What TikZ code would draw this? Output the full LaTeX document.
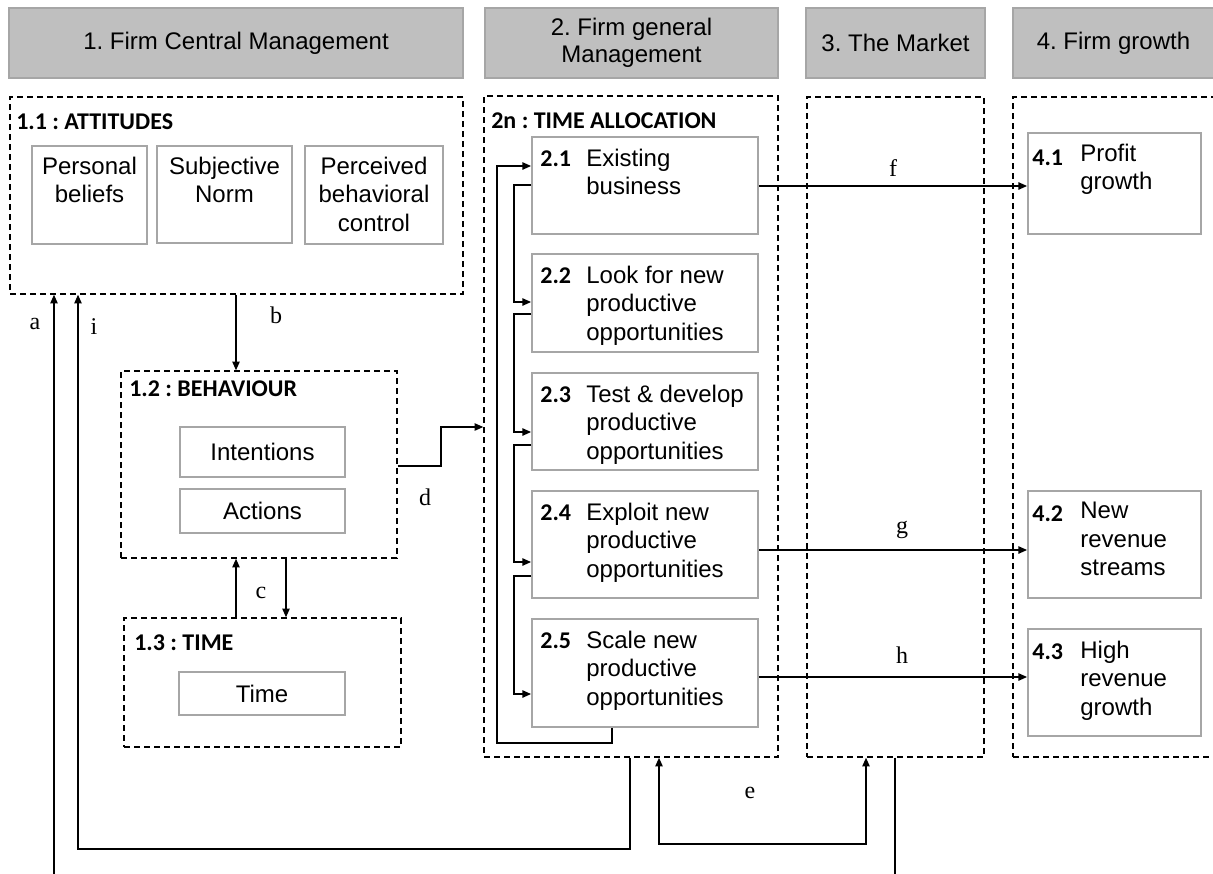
\documentclass[tikz,border=0pt]{standalone}
\usepackage{fontspec}
\setmainfont{Liberation Sans}
\newfontfamily\calfont{Carlito}
\newfontfamily\serfont{Liberation Serif}
\usetikzlibrary{arrows.meta}
\definecolor{hdrfill}{RGB}{191,191,191}
\definecolor{boxline}{RGB}{166,166,166}
\frenchspacing

\begin{document}
\begin{tikzpicture}[x=0.75pt, y=-0.75pt,
    wh/.style 2 args={minimum width=#1*0.75pt, minimum height=#2*0.75pt},
    header/.style={rectangle, fill=hdrfill, draw=boxline, line width=0.8pt,
      inner sep=0pt, align=center, font=\fontsize{18}{20.5}\selectfont},
    group/.style={rectangle, draw, line width=1.1pt, dash pattern=on 4.5pt off 3pt, inner sep=0pt},
    subbox/.style={rectangle, draw=boxline, line width=1.4pt, inner sep=0pt,
      font=\fontsize{18}{21.2}\selectfont},
    bodytxt/.style={inner sep=0pt, align=left, font=\fontsize{18}{21.2}\selectfont},
    numtxt/.style={inner sep=0pt, font=\calfont\bfseries\fontsize{18}{21.6}\selectfont},
    titletxt/.style={numtxt},
    lettertxt/.style={inner sep=0pt, font=\serfont\fontsize{18}{21}\selectfont},
    arr/.style={-{Triangle[length=6.5pt, width=5.5pt]}, line width=1.1pt},
    arrboth/.style={{Triangle[length=6.5pt, width=5.5pt]}-{Triangle[length=6.5pt, width=5.5pt]}, line width=1.1pt},
    plain/.style={line width=1.1pt}
  ]
  \useasboundingbox (0,0) rectangle (1213,874);

  % column headers
  \node[header, wh={454}{70}] (hCentral) at (236,43) {1. Firm Central Management};
  \node[header, wh={293}{70}] (hGeneral) at (631.5,43) {2. Firm general\\Management};
  \node[header, wh={179}{70}] (hMarket) at (895.5,43) {3. The Market};
  \node[header, wh={201}{70}] (hGrowth) at (1113.5,43) {4. Firm growth};

  % dashed groups
  \node[group, wh={453}{197}] (attitudes) at (236.5,195.5) {};
  \node[group, wh={294}{661}] (alloc) at (631,426.5) {};
  \node[group, wh={177}{660}] (market) at (895.5,427) {};
  \node[group, wh={227}{660}] (growth) at (1126.5,427) {};
  \node[group, wh={276}{187}] (behaviour) at (259,464.5) {};
  \node[group, wh={277}{129}] (timebox) at (262.5,682.5) {};

  \node[titletxt, anchor=west] (attTitle) at (16,122) {1.1 : ATTITUDES};
  \node[titletxt, anchor=west] (behTitle) at (129,389) {1.2 : BEHAVIOUR};
  \node[titletxt, anchor=west] (timeTitle) at (134,643) {1.3 : TIME};
  \node[titletxt, anchor=west] (allocTitle) at (491,121) {2n : TIME ALLOCATION};

  % 1.1 attitudes
  \node[subbox, wh={115}{98}] (beliefs) at (89.5,195) {};
  \node[subbox, wh={135}{97}] (norm) at (224.5,194.5) {};
  \node[subbox, wh={138}{98}] (control) at (374,195) {};
  \node[bodytxt, align=center, anchor=north] (beliefsTxt) at ([shift={(0,12)}]beliefs.north) {Personal\\beliefs};
  \node[bodytxt, align=center, anchor=north] (normTxt) at ([shift={(0,12)}]norm.north) {Subjective\\Norm};
  \node[bodytxt, align=center, anchor=north] (controlTxt) at ([shift={(0,12)}]control.north) {Perceived\\behavioral\\control};

  % 1.2 and 1.3
  \node[subbox, wh={165}{50}] (intentions) at (262.5,452) {Intentions};
  \node[subbox, wh={165}{44}] (actions) at (262.5,511) {Actions};
  \node[subbox, wh={166}{43}] (time) at (262,693.5) {Time};

  % 2n time allocation
  \node[subbox, wh={226}{97}] (s21) at (645,185.5) {};
  \node[subbox, wh={226}{98}] (s22) at (645,303) {};
  \node[subbox, wh={226}{97}] (s23) at (645,421.5) {};
  \node[subbox, wh={226}{107}] (s24) at (645,544.5) {};
  \node[subbox, wh={226}{108}] (s25) at (645,673) {};
  \node[numtxt, anchor=base west] (n21) at ([shift={(9,30)}]s21.north west) {2.1};
  \node[bodytxt, anchor=north west] (t21) at ([shift={(55,13)}]s21.north west) {Existing\\business};
  \node[numtxt, anchor=base west] (n22) at ([shift={(9,30)}]s22.north west) {2.2};
  \node[bodytxt, anchor=north west] (t22) at ([shift={(55,13)}]s22.north west) {Look for new\\productive\\opportunities};
  \node[numtxt, anchor=base west] (n23) at ([shift={(9,30)}]s23.north west) {2.3};
  \node[bodytxt, anchor=north west] (t23) at ([shift={(55,13)}]s23.north west) {Test \& develop\\productive\\opportunities};
  \node[numtxt, anchor=base west] (n24) at ([shift={(9,30)}]s24.north west) {2.4};
  \node[bodytxt, anchor=north west] (t24) at ([shift={(55,13)}]s24.north west) {Exploit new\\productive\\opportunities};
  \node[numtxt, anchor=base west] (n25) at ([shift={(9,30)}]s25.north west) {2.5};
  \node[bodytxt, anchor=north west] (t25) at ([shift={(55,13)}]s25.north west) {Scale new\\productive\\opportunities};

  % 4 firm growth
  \node[subbox, wh={173}{101}] (g41) at (1114.5,183.5) {};
  \node[subbox, wh={173}{107}] (g42) at (1114.5,544.5) {};
  \node[subbox, wh={173}{107}] (g43) at (1114.5,682.5) {};
  \node[numtxt, anchor=base west] (n41) at ([shift={(5,33)}]g41.north west) {4.1};
  \node[bodytxt, anchor=north west] (t41) at ([shift={(53,12)}]g41.north west) {Profit\\growth};
  \node[numtxt, anchor=base west] (n42) at ([shift={(5,31)}]g42.north west) {4.2};
  \node[bodytxt, anchor=north west] (t42) at ([shift={(53,12)}]g42.north west) {New\\revenue\\streams};
  \node[numtxt, anchor=base west] (n43) at ([shift={(5,31)}]g43.north west) {4.3};
  \node[bodytxt, anchor=north west] (t43) at ([shift={(53,13)}]g43.north west) {High\\revenue\\growth};

  % free ends at the bottom edge
  \coordinate (aStart) at (54,874);
  \coordinate (mEnd) at (895,874);

  % connectors
  \draw[arr] (aStart) -- (aStart |- attitudes.south);
  \draw[arr] (alloc.south -| 630,0) -- (630,849) -- (78,849) -- (78,849 |- attitudes.south);
  \draw[arr] (attitudes.south -| 236,0) -- (behaviour.north -| 236,0);
  \draw[arr] (timebox.north -| 236,0) -- (behaviour.south -| 236,0);
  \draw[arr] (behaviour.south -| 286,0) -- (timebox.north -| 286,0);
  \draw[arr] (behaviour.east |- 0,466) -| (441,427) -- (alloc.west |- 0,427);
  \draw[arrboth] (alloc.south -| 659,0) -- (659,844) -- (866,844) -- (market.south -| 866,0);
  \draw[plain] (market.south -| 895,0) -- (mEnd);

  \draw[arr] (s21.east |- 0,186) -- (g41.west |- 0,186);
  \draw[arr] (s24.east |- 0,550) -- (g42.west |- 0,550);
  \draw[arr] (s25.east |- 0,677) -- (g43.west |- 0,677);

  % loops inside time allocation
  \draw[arr] (s25.south -| 612,0) -- (612,743) -- (497,743) -- (497,166) -- (s21.west |- 0,166);
  \draw[arr] (s21.west |- 0,185) -| (514,302) -- (s22.west |- 0,302);
  \draw[arr] (s22.west |- 0,314) -| (514,432) -- (s23.west |- 0,432);
  \draw[arr] (s23.west |- 0,445) -| (514,562) -- (s24.west |- 0,562);
  \draw[arr] (s24.west |- 0,576) -| (514,694) -- (s25.west |- 0,694);

  % connector letters
  \node[lettertxt] (la) at (35,324) {a};
  \node[lettertxt] (lb) at (276,315) {b};
  \node[lettertxt] (lc) at (261,593) {c};
  \node[lettertxt] (ld) at (425,497) {d};
  \node[lettertxt] (le) at (750,793) {e};
  \node[lettertxt] (lf) at (893,168) {f};
  \node[lettertxt] (lg) at (902,530) {g};
  \node[lettertxt] (lh) at (902,655) {h};
  \node[lettertxt] (li) at (94,327) {i};
\end{tikzpicture}
\end{document}
